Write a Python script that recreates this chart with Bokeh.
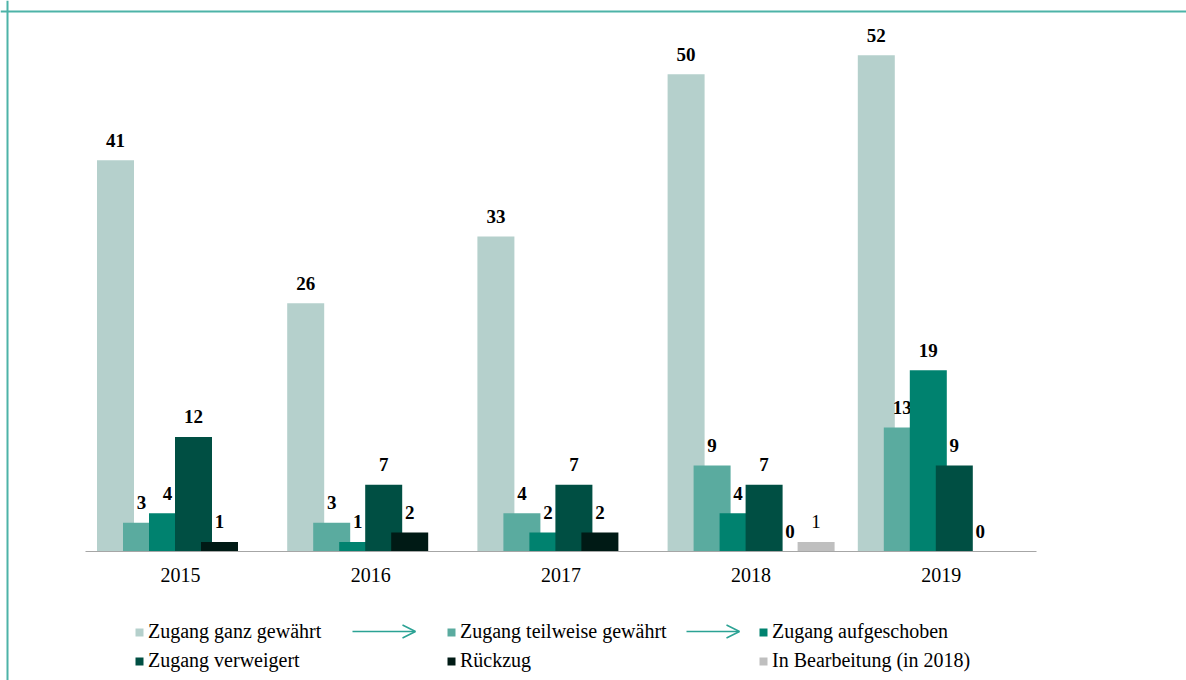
import math
from bokeh.plotting import figure
from bokeh.models import (ColumnDataSource, Range1d, Legend, LegendItem, Arrow, OpenHead,
                          LinearAxis, FixedTicker, Span)
from bokeh.transform import dodge
from bokeh.core.properties import value
from bokeh.embed import file_html
from bokeh.resources import INLINE

years = ["2015", "2016", "2017", "2018", "2019"]
series_names = [
    "Zugang ganz gewährt",
    "Zugang teilweise gewährt",
    "Zugang aufgeschoben",
    "Zugang verweigert",
    "Rückzug",
    "In Bearbeitung (in 2018)",
]
ganz = [41, 26, 33, 50, 52]
teilweise = [3, 3, 4, 9, 13]
aufgeschoben = [4, 1, 2, 4, 19]
verweigert = [12, 7, 7, 7, 9]
rueckzug = [1, 2, 2, 0, 0]
bearbeitung = [float("nan"), float("nan"), float("nan"), 1, float("nan")]

series_values = [ganz, teilweise, aufgeschoben, verweigert, rueckzug, bearbeitung]
colors = ["#b5d0cc", "#5aab9f", "#00826f", "#004f43", "#001a15", "#bfbfbf"]
label_styles = ["bold", "bold", "bold", "bold", "bold", "normal"]
legend_order = [0, 3, 1, 4, 2, 5]   # column-major fill: row 1 = 0,1,2 ; row 2 = 3,4,5

FONT = "Liberation Serif"
FRAME_TEAL = "#4db3a8"
ARROW_TEAL = "#2ba294"

W, H = 1186, 680
px_x = 190.2          # pixels per category
px_y = 9.545          # pixels per unit value
x0_px = 180           # canvas x of first category centre
y0_px = 551           # canvas y of baseline
x_start = -x0_px / px_x
x_end = (W - x0_px) / px_x
y_end = y0_px / px_y
y_start = -(H - y0_px) / px_y

p = figure(
    x_range=Range1d(x_start, x_end),
    y_range=Range1d(y_start, y_end),
    width=W, height=H,
    output_backend="svg", toolbar_location=None,
    x_axis_location=None, y_axis_location=None,
    min_border=0,
)
p.min_border_left = p.min_border_right = p.min_border_top = p.min_border_bottom = 0
p.outline_line_color = None
p.background_fill_color = "white"
p.border_fill_color = "white"
p.grid.visible = False

xi = list(range(len(years)))
xa = LinearAxis(
    ticker=FixedTicker(ticks=xi),
    major_label_overrides={i: y for i, y in zip(xi, years)},
    fixed_location=0,
    bounds=(-0.5, len(years) - 0.5),
    axis_line_color="#a6a6a6", axis_line_width=1.2,
    major_tick_line_color=None, minor_tick_line_color=None,
    major_tick_out=0, major_tick_in=0,
    major_label_text_font=FONT, major_label_text_font_size="20px",
    major_label_text_color="black", major_label_standoff=16,
)
p.add_layout(xa, "below")

bar_w = 37 / px_x
step = 26 / px_x
renderers = []
for k, (name, vals, col, sty) in enumerate(zip(series_names, series_values, colors, label_styles)):
    off = (k - 2.5) * step
    labels = ["" if (isinstance(v, float) and math.isnan(v)) else str(int(v)) for v in vals]
    tops = [0 if (isinstance(v, float) and math.isnan(v)) else v for v in vals]
    src = ColumnDataSource(dict(xi=xi, top=tops, lab=labels))
    r = p.vbar(x=dodge("xi", off), top="top", width=bar_w, source=src,
               fill_color=col, line_color=None)
    renderers.append(r)
    p.text(x=dodge("xi", off), y="top", text="lab", source=src,
           text_font=value(FONT), text_font_style=sty, text_font_size="19px",
           text_color="black", text_align="center", text_baseline="alphabetic", y_offset=-20)

legend = Legend(
    items=[LegendItem(label=series_names[i], renderers=[renderers[i]]) for i in legend_order],
    ncols=3,
    location=(134, 8),
    glyph_width=10, glyph_height=10,
    label_standoff=4, label_width=292, label_height=23,
    spacing=6, padding=0, margin=0,
    label_text_font=FONT, label_text_font_size="20px", label_text_color="black",
    border_line_color=None, background_fill_alpha=0,
)
p.add_layout(legend)

for xs, xe in [(352, 415), (686, 739)]:
    p.add_layout(Arrow(end=OpenHead(size=13, line_color=ARROW_TEAL, line_width=1.5),
                       x_start=xs, y_start=49, x_end=xe, y_end=49,
                       start_units="screen", end_units="screen",
                       line_color=ARROW_TEAL, line_width=1.5))

# frame lines at the left and top of the page
p.add_layout(Span(location=x_start + 7 / px_x, dimension="height",
                  line_color=FRAME_TEAL, line_width=2))
p.add_layout(Span(location=y_end - 11 / px_y, dimension="width",
                  line_color=FRAME_TEAL, line_width=2))

open("out.html", "w").write(file_html(p, INLINE))
